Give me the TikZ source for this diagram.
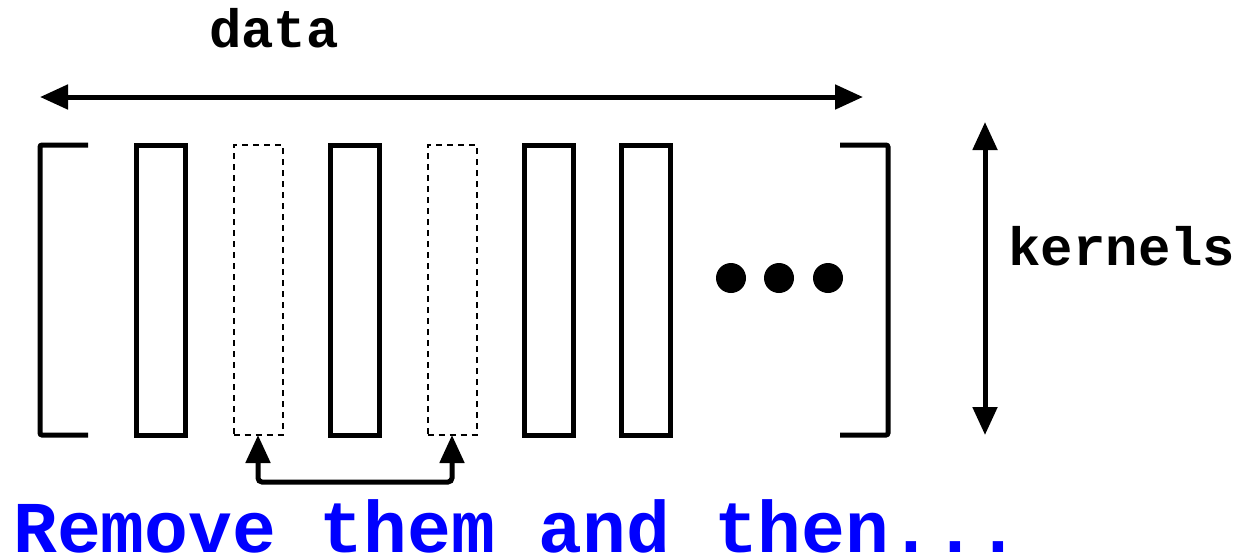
\documentclass[tikz,border=0pt]{standalone}
\usepackage{fontspec}
\usetikzlibrary{arrows.meta}
\newfontfamily\courbf{Liberation Mono}[BoldFont={Liberation Mono Bold}]
\definecolor{labelblue}{RGB}{0,0,255}
\tikzset{
  thick line/.style={line width=5pt, line join=miter},
  kernel/.style={draw, line width=5pt, minimum width=49pt, minimum height=290pt, inner sep=0pt, outer sep=0pt},
  removed/.style={draw, line width=2pt, dash pattern=on 6pt off 5pt, minimum width=49pt, minimum height=290pt, inner sep=0pt, outer sep=0pt},
  bothtips/.style={{Triangle[length=28pt,width=24pt]}-{Triangle[length=28pt,width=24pt]}},
  label/.style={font=\courbf\bfseries\fontsize{54}{60}\selectfont, inner sep=0pt, anchor=base},
  dot/.style={circle, fill, minimum size=30pt, inner sep=0pt}
}
\begin{document}
\begin{tikzpicture}[x=1pt,y=-1pt]
  \useasboundingbox (0,0) rectangle (1239,558);

  % dimension arrow along the data axis
  \coordinate (dl) at (40,97);
  \coordinate (dr) at (863,97);
  \draw[thick line, bothtips] (dl) -- (dr);
  \node[label] (data) at (274,47) {data};

  % brackets enclosing the kernels
  \draw[thick line, rounded corners=2pt] (88,145) -- (40,145) -- (40,435) -- (88,435);
  \draw[thick line, rounded corners=2pt] (840,145) -- (888,145) -- (888,435) -- (840,435);

  % kernels (dashed ones are the removed kernels)
  \node[kernel]  (k1) at (161,290) {};
  \node[removed] (k2) at (258,290) {};
  \node[kernel]  (k3) at (355,290) {};
  \node[removed] (k4) at (452,290) {};
  \node[kernel]  (k5) at (549,290) {};
  \node[kernel]  (k6) at (646,290) {};

  % ellipsis dots
  \node[dot] (e1) at (731,278) {};
  \node[dot] (e2) at (779,278) {};
  \node[dot] (e3) at (828,278) {};

  % dimension arrow along the kernel axis
  \coordinate (kt) at (985,122);
  \coordinate (kb) at (985,435);
  \draw[thick line, bothtips] (kt) -- (kb);
  \node[label] (kernels) at (1122,265) {kernels};

  % connector joining the two removed kernels
  \draw[thick line, bothtips, rounded corners=4pt]
    (k2.south) -- (k2.south |- 0,482) -- (k4.south |- 0,482) -- (k4.south);

  % caption (no descenders, so the box ends at the baseline)
  \node[font=\courbf\bfseries\fontsize{73}{80}\selectfont, text=labelblue,
        inner sep=0pt, text depth=0pt, anchor=base west] (remove) at (13,552) {Remove them and then...};
\end{tikzpicture}
\end{document}
